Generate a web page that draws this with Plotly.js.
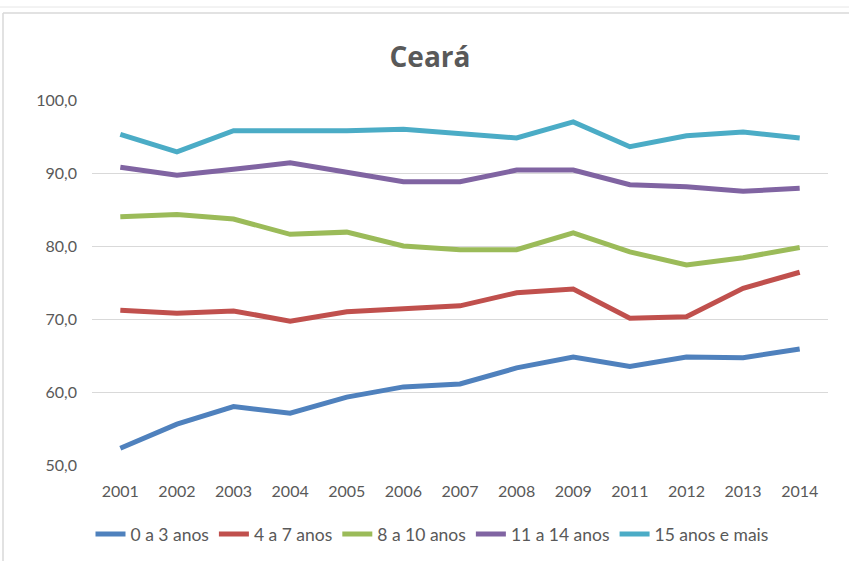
<!DOCTYPE html>
<html>
<head>
<meta charset="utf-8">
<script src="https://cdn.plot.ly/plotly-3.0.1.min.js"></script>
<style>
  html, body { margin: 0; padding: 0; background: #ffffff; }
  #chart { width: 849px; height: 561px; }
</style>
</head>
<body>
<div id="chart"></div>
<script>
const years = ["2001","2002","2003","2004","2005","2006","2007","2008","2009","2011","2012","2013","2014"];
const seriesNames = ["0 a 3 anos", "4 a 7 anos", "8 a 10 anos", "11 a 14 anos", "15 anos e mais"];
const age0to3   = [52.3, 55.6, 58.0, 57.1, 59.3, 60.7, 61.1, 63.3, 64.8, 63.5, 64.8, 64.7, 65.9];
const age4to7   = [71.2, 70.8, 71.1, 69.7, 71.0, 71.4, 71.8, 73.6, 74.1, 70.1, 70.3, 74.2, 76.4];
const age8to10  = [84.0, 84.3, 83.7, 81.6, 81.9, 80.0, 79.5, 79.5, 81.8, 79.2, 77.4, 78.4, 79.8];
const age11to14 = [90.8, 89.7, 90.5, 91.4, 90.1, 88.8, 88.8, 90.4, 90.4, 88.4, 88.1, 87.5, 87.9];
const age15plus = [95.3, 92.9, 95.8, 95.8, 95.8, 96.0, 95.4, 94.8, 97.0, 93.6, 95.1, 95.6, 94.8];
const yTicks = [50, 60, 70, 80, 90, 100];
const yTickLabels = ["50,0", "60,0", "70,0", "80,0", "90,0", "100,0"];

const allSeries = [age0to3, age4to7, age8to10, age11to14, age15plus];
const colors = ["#4F81BD", "#C0504D", "#9BBB59", "#8064A2", "#4BACC6"];

const FONT = 'Lato, "Open Sans", sans-serif';
const TITLE_FONT = '"Open Sans", sans-serif';

const traces = allSeries.map((vals, i) => ({
  type: "scatter",
  mode: "lines",
  x: years,
  y: vals,
  name: seriesNames[i],
  line: { color: colors[i], width: 5 },
  hoverinfo: "x+y+name"
}));

const layout = {
  width: 849,
  height: 561,
  margin: { l: 92, r: 21, t: 100, b: 96 },
  paper_bgcolor: "#ffffff",
  plot_bgcolor: "#ffffff",
  font: { family: FONT, color: "#595959", size: 16 },
  title: {
    text: "<b>Ceará</b>",
    font: { family: TITLE_FONT, size: 28, color: "#595959" },
    x: 430 / 849, xanchor: "center", xref: "container",
    y: 1 - 57 / 561, yanchor: "middle", yref: "container"
  },
  xaxis: {
    type: "category",
    range: [-0.5, 12.5],
    showgrid: false,
    zeroline: false,
    showline: false,
    ticks: "",
    ticklabelstandoff: 15,
    tickfont: { family: FONT, size: 16, color: "#595959" },
    fixedrange: true
  },
  yaxis: {
    range: [50, 100],
    tickvals: yTicks,
    ticktext: yTickLabels,
    showgrid: true,
    gridcolor: "#D9D9D9",
    gridwidth: 1,
    zeroline: false,
    showline: false,
    ticks: "",
    ticklabelstandoff: 14,
    tickfont: { family: FONT, size: 16, color: "#595959" },
    fixedrange: true
  },
  showlegend: true,
  legend: {
    orientation: "h",
    xref: "container", yref: "container",
    x: 432 / 849, xanchor: "center",
    y: 1 - 534 / 561, yanchor: "middle",
    font: { family: FONT, size: 17.5, color: "#595959" },
    itemwidth: 30,
    tracegroupgap: 0,
    bgcolor: "rgba(0,0,0,0)"
  },
  shapes: [
    { type: "line", xref: "paper", yref: "paper",
      x0: (3 - 92) / 736, x1: (860 - 92) / 736,
      y0: 1 + (100 - 13) / 365, y1: 1 + (100 - 13) / 365,
      line: { color: "#D9D9D9", width: 1.5 } },
    { type: "line", xref: "paper", yref: "paper",
      x0: (3 - 92) / 736, x1: (3 - 92) / 736,
      y0: 1 + (100 - 13) / 365, y1: -0.5,
      line: { color: "#D9D9D9", width: 1.5 } },
    { type: "line", xref: "paper", yref: "paper",
      x0: (0 - 92) / 736, x1: (860 - 92) / 736,
      y0: 1 + (100 - 7) / 365, y1: 1 + (100 - 7) / 365,
      line: { color: "#E6E6E6", width: 1 } }
  ]
};

Plotly.newPlot("chart", traces, layout, { displayModeBar: false, staticPlot: true });
</script>
</body>
</html>
